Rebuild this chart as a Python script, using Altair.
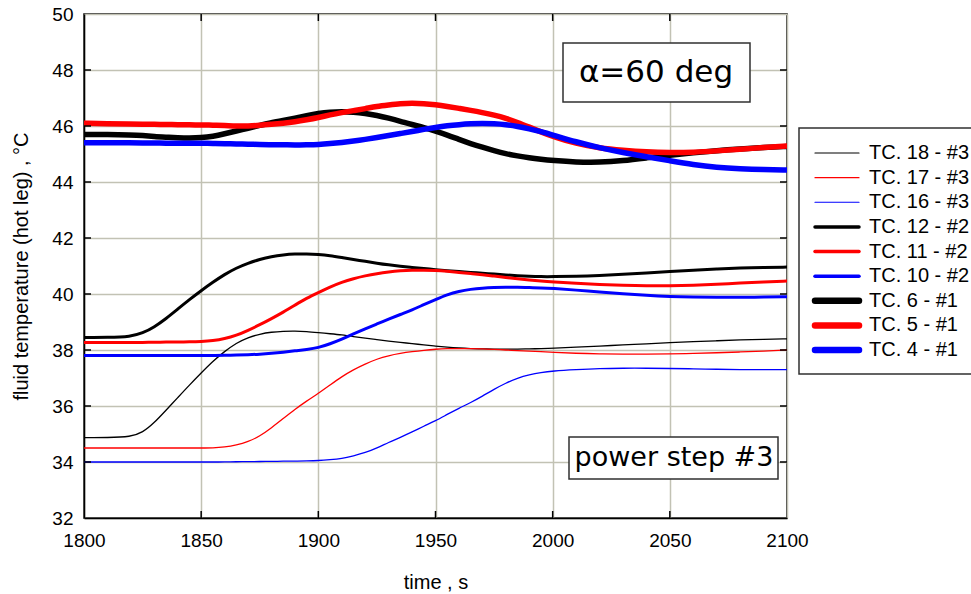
import altair as alt
import pandas as pd

# ---------------- data ----------------
time_s = [1800, 1810, 1820, 1825, 1830, 1835, 1840, 1845, 1850, 1855, 1860, 1865, 1870, 1875,
          1880, 1885, 1890, 1895, 1900, 1905, 1910, 1915, 1920, 1925, 1930, 1935, 1940, 1945,
          1950, 1955, 1960, 1965, 1970, 1975, 1980, 1985, 1990, 1995, 2000, 2010, 2020, 2030,
          2040, 2050, 2060, 2070, 2080, 2090, 2100]

tc18 = [34.87, 34.87, 34.90, 35.05, 35.40, 35.85, 36.30, 36.75, 37.18, 37.60, 37.95, 38.25, 38.45, 38.57,
        38.64, 38.67, 38.68, 38.66, 38.62, 38.58, 38.54, 38.48, 38.42, 38.37, 38.32, 38.27, 38.23, 38.18,
        38.14, 38.10, 38.07, 38.05, 38.04, 38.03, 38.03, 38.03, 38.04, 38.05, 38.06, 38.10, 38.14, 38.18,
        38.22, 38.26, 38.30, 38.33, 38.36, 38.38, 38.40]
tc17 = [34.50, 34.50, 34.50, 34.50, 34.50, 34.50, 34.50, 34.50, 34.50, 34.50, 34.53, 34.60, 34.72, 34.92,
        35.22, 35.55, 35.88, 36.18, 36.45, 36.75, 37.05, 37.30, 37.50, 37.68, 37.80, 37.88, 37.94, 37.99,
        38.03, 38.05, 38.05, 38.05, 38.04, 38.02, 38.00, 37.98, 37.96, 37.94, 37.92, 37.88, 37.86, 37.85,
        37.85, 37.86, 37.88, 37.90, 37.93, 37.96, 38.00]
tc16 = [34.00, 34.00, 34.00, 34.00, 34.00, 34.00, 34.00, 34.00, 34.00, 34.00, 34.00, 34.01, 34.01, 34.02,
        34.02, 34.03, 34.03, 34.04, 34.05, 34.08, 34.12, 34.22, 34.33, 34.50, 34.70, 34.88, 35.07, 35.28,
        35.47, 35.70, 35.92, 36.12, 36.35, 36.60, 36.82, 37.00, 37.12, 37.20, 37.25, 37.30, 37.34, 37.35,
        37.35, 37.34, 37.33, 37.31, 37.30, 37.30, 37.30]
tc12 = [38.45, 38.45, 38.48, 38.60, 38.82, 39.12, 39.46, 39.80, 40.12, 40.42, 40.70, 40.93, 41.10, 41.24,
        41.34, 41.40, 41.43, 41.43, 41.41, 41.37, 41.30, 41.23, 41.17, 41.10, 41.04, 40.99, 40.95, 40.91,
        40.87, 40.83, 40.80, 40.77, 40.74, 40.71, 40.68, 40.65, 40.63, 40.62, 40.62, 40.63, 40.66, 40.70,
        40.75, 40.80, 40.85, 40.89, 40.93, 40.95, 40.96]
tc11 = [38.27, 38.27, 38.27, 38.27, 38.28, 38.28, 38.29, 38.29, 38.30, 38.33, 38.40, 38.52, 38.70, 38.90,
        39.12, 39.35, 39.60, 39.85, 40.05, 40.25, 40.42, 40.55, 40.65, 40.73, 40.79, 40.83, 40.85, 40.85,
        40.84, 40.81, 40.77, 40.73, 40.69, 40.64, 40.59, 40.54, 40.50, 40.46, 40.43, 40.38, 40.34, 40.31,
        40.29, 40.29, 40.31, 40.35, 40.39, 40.43, 40.46]
tc10 = [37.80, 37.80, 37.80, 37.80, 37.80, 37.80, 37.80, 37.80, 37.80, 37.80, 37.81, 37.82, 37.83, 37.85,
        37.88, 37.92, 37.97, 38.02, 38.08, 38.22, 38.38, 38.58, 38.76, 38.93, 39.10, 39.27, 39.43, 39.62,
        39.80, 39.98, 40.10, 40.17, 40.21, 40.23, 40.24, 40.24, 40.23, 40.22, 40.20, 40.14, 40.07, 40.01,
        39.95, 39.91, 39.89, 39.88, 39.88, 39.89, 39.90]
tc6 = [45.70, 45.70, 45.68, 45.66, 45.62, 45.60, 45.58, 45.57, 45.58, 45.63, 45.72, 45.82, 45.92, 46.02,
       46.12, 46.20, 46.28, 46.37, 46.45, 46.50, 46.52, 46.50, 46.45, 46.38, 46.28, 46.17, 46.05, 45.95,
       45.82, 45.68, 45.52, 45.37, 45.24, 45.12, 45.01, 44.93, 44.86, 44.81, 44.77, 44.71, 44.70, 44.76,
       44.86, 44.96, 45.04, 45.12, 45.18, 45.23, 45.27]
tc5 = [46.10, 46.08, 46.07, 46.06, 46.06, 46.05, 46.05, 46.04, 46.04, 46.03, 46.02, 46.00, 46.00, 46.02,
       46.06, 46.10, 46.15, 46.22, 46.30, 46.40, 46.48, 46.55, 46.62, 46.70, 46.75, 46.80, 46.82, 46.80,
       46.76, 46.70, 46.63, 46.56, 46.48, 46.39, 46.28, 46.13, 45.96, 45.79, 45.63, 45.37, 45.21, 45.13,
       45.07, 45.05, 45.06, 45.11, 45.17, 45.23, 45.29]
tc4 = [45.40, 45.40, 45.40, 45.39, 45.39, 45.39, 45.38, 45.38, 45.38, 45.38, 45.37, 45.36, 45.35, 45.34,
       45.33, 45.33, 45.32, 45.33, 45.34, 45.37, 45.41, 45.46, 45.52, 45.59, 45.66, 45.73, 45.80, 45.88,
       45.95, 46.01, 46.05, 46.08, 46.09, 46.08, 46.05, 45.99, 45.90, 45.80, 45.68, 45.43, 45.22, 45.05,
       44.90, 44.76, 44.62, 44.52, 44.47, 44.44, 44.43]

series_names = ["TC. 18 - #3", "TC. 17 - #3", "TC. 16 - #3",
                "TC. 12 - #2", "TC. 11 - #2", "TC. 10 - #2",
                "TC. 6 - #1", "TC. 5 - #1", "TC. 4 - #1"]
series_values = [tc18, tc17, tc16, tc12, tc11, tc10, tc6, tc5, tc4]
series_colors = ["#000000", "#ff0000", "#0000ff"] * 3
line_widths = [1.3, 1.3, 1.3, 3.0, 3.0, 3.0, 5.5, 5.5, 5.5]
legend_widths = [1.2, 1.2, 1.2, 3.5, 3.5, 3.5, 6.5, 6.5, 6.5]

x_ticks = [1800, 1850, 1900, 1950, 2000, 2050, 2100]
y_ticks = [32, 34, 36, 38, 40, 42, 44, 46, 48, 50]
inner_x_ticks = x_ticks[1:-1]
inner_y_ticks = y_ticks[1:-1]

W, H = 703, 504
FONT = "Liberation Sans"

xscale = alt.Scale(domain=[1800, 2100], nice=False, zero=False)
yscale = alt.Scale(domain=[32, 50], nice=False, zero=False)
xenc = alt.X("t:Q", scale=xscale, title="time , s",
             axis=alt.Axis(values=x_ticks, format="d", labelFlush=False))
yenc = alt.Y("v:Q", scale=yscale, title="fluid temperature (hot leg) ,  \u00b0C",
             axis=alt.Axis(values=y_ticks, format="d", labelFlush=False))

line_layers = []
for name, vals, col, w in zip(series_names, series_values, series_colors, line_widths):
    df = pd.DataFrame({"t": time_s, "v": vals, "series": name})
    line_layers.append(
        alt.Chart(df).mark_line(color=col, strokeWidth=w, interpolate="basis",
                                strokeCap="round", strokeJoin="round", clip=True)
        .encode(x=xenc, y=yenc)
    )

xt = pd.DataFrame({"t": inner_x_ticks})
yt = pd.DataFrame({"v": inner_y_ticks})
tick_style = dict(color="black", strokeWidth=1.5)
ticks = [
    alt.Chart(xt).mark_rule(**tick_style).encode(x=xenc, y=alt.value(H), y2=alt.value(H - 7)),
    alt.Chart(xt).mark_rule(**tick_style).encode(x=xenc, y=alt.value(0), y2=alt.value(7)),
    alt.Chart(yt).mark_rule(**tick_style).encode(y=yenc, x=alt.value(0), x2=alt.value(7)),
    alt.Chart(yt).mark_rule(**tick_style).encode(y=yenc, x=alt.value(W), x2=alt.value(W - 7)),
]

# annotation boxes
dummy = pd.DataFrame({"a": [0]})
alpha_box = alt.Chart(dummy).mark_rect(fill="white", stroke="#303030", strokeWidth=1.5).encode(
    x=alt.value(479), x2=alt.value(666), y=alt.value(29), y2=alt.value(88))
alpha_txt = alt.Chart(pd.DataFrame({"label": ["\u03b1=60 deg"]})).mark_text(
    font="DejaVu Sans", fontSize=31, color="black", align="center", baseline="middle").encode(
    x=alt.value(572), y=alt.value(59), text="label:N")
step_box = alt.Chart(dummy).mark_rect(fill="white", stroke="#303030", strokeWidth=1.5).encode(
    x=alt.value(485), x2=alt.value(694), y=alt.value(423), y2=alt.value(465))
step_txt = alt.Chart(pd.DataFrame({"label": ["power step #3"]})).mark_text(
    font="DejaVu Sans", fontSize=27, color="black", align="center", baseline="middle").encode(
    x=alt.value(590), y=alt.value(444), text="label:N")

main = alt.layer(*line_layers, *ticks, alpha_box, alpha_txt, step_box, step_txt)

# legend drawn as its own layer
leg_df = pd.DataFrame({"name": series_names, "color": series_colors, "w": legend_widths})
leg_y = alt.Y("name:N", sort=series_names, axis=None,
              scale=alt.Scale(type="point", domain=series_names, range=[139, 336], padding=0))
leg_box = alt.Chart(dummy).mark_rect(fill="white", stroke="#303030", strokeWidth=1.5).encode(
    x=alt.value(715), x2=alt.value(905), y=alt.value(114), y2=alt.value(360))
leg_lines = alt.Chart(leg_df).mark_rule(strokeCap="round").encode(
    x=alt.value(731), x2=alt.value(775), y=leg_y,
    color=alt.Color("color:N", scale=None),
    strokeWidth=alt.StrokeWidth("w:Q", scale=None))
leg_text = alt.Chart(leg_df).mark_text(font=FONT, fontSize=20, align="left", baseline="middle",
                                       color="black").encode(
    x=alt.value(785), y=leg_y, text="name:N")
legend = alt.layer(leg_box, leg_lines, leg_text)

chart = alt.layer(main, legend).resolve_scale(y="independent", x="independent").properties(
    width=W, height=H,
    autosize=alt.AutoSizeParams(type="none"),
    padding={"left": 84, "top": 14, "right": 184, "bottom": 76},
    background="white",
).configure_view(
    stroke="black", strokeWidth=1.5
).configure_axis(
    domainColor="black", domainWidth=1.5,
    ticks=False,
    grid=True, gridColor="#c2c2b4", gridWidth=1.5,
    labelFont=FONT, labelFontSize=19, labelColor="black",
    titleFont=FONT, titleFontSize=20, titleColor="black", titleFontWeight="normal",
).configure_axisX(
    labelPadding=13, titlePadding=22,
).configure_axisY(
    labelPadding=11, titlePadding=20,
)

chart.save("out.html", embed_options={"renderer": "svg", "actions": False})
